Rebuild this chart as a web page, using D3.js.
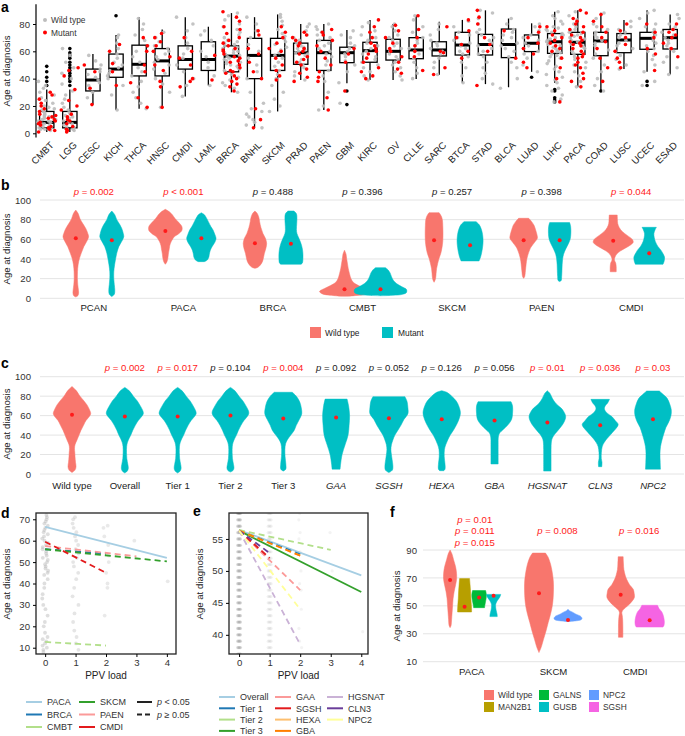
<!DOCTYPE html>
<html><head><meta charset="utf-8">
<script src="https://cdn.jsdelivr.net/npm/d3@7"></script>
<style>body{margin:0;background:#fff} text{font-family:"Liberation Sans",Arial,Helvetica,sans-serif}</style>
</head><body><svg id="c" width="685" height="736"></svg>
<script>
// ================= DATA =================
// Panel a
const aCats = ["CMBT","LGG","CESC","KICH","THCA","HNSC","CMDI","LAML","BRCA","BNHL","SKCM","PRAD","PAEN","GBM","KIRC","OV","CLLE","SARC","BTCA","STAD","BLCA","LUAD","LIHC","PACA","COAD","LUSC","UCEC","ESAD"];
const aQ1  = [4,4,31,41,42,42,47,46,45,40,46,50.5,46,51.7,52,53.6,54.6,56.6,57.3,57.3,55.4,59.8,58.5,57.8,56.8,59,61.5,61.7];
const aMed = [8,8,39,47,50.5,53,54,54,56.5,57,57,59,59,59,60.5,60,61,61,64.6,65,65,65.9,67,66.6,67.6,68.3,69.5,70];
const aQ3  = [16,16,47,58,64.5,62,64,67,64,69.5,69.5,66,68,63,66.6,68.8,70,67,73.9,72.4,76.3,72,73,73.9,73.9,73,73.9,76];
const aLo  = [1,1,21,17,18,19,27,35,30,4,16,39,17,36.6,39,39,39.8,42.7,37,36,33.7,45,37,33.7,31.7,47,45,43];
const aHi  = [32,32,58,72,85,76,85,78,88,85,87,80,80,75.6,83,80,86,81.7,83,90,84,80.5,89,90,88.3,83,90,87];
const aOut = [[35,38,41,45,49],[35,38,40,42,44,46,48,50,52,55,57,59,62],[],[86],[],[],[],[],[],[],[],[],[],[31,21],[],[],[],[],[],[],[],[41],[32,31,26,24.4,23],[],[31],[],[38,35],[]];
const aGray = [
 [2,3,3,4,4,5,5,6,6,7,7,8,8,9,9,10,10,11,12,12,13,14,15,16,17,18,19,20,22,24,26,28,30,33,35,38],
 [2,3,4,5,6,7,8,9,10,11,12,13,14,15,17,19,22,25,28,31,36,40,44,48,52,57,62],
 [26,30,33,35,37,39,41,43,45,47,50,53,57],
 [17,28,35,40,42,44,46,48,50,52,55,58,62,66,70,72],
 [18,22,26,30,34,38,42,45,48,52,56,60,64,68,72,76,80,84],
 [19,30,36,40,44,47,50,52,54,56,58,60,62,64,67,70,74],
 [27,35,40,45,50,55,58,62,66,70,75,80,85],
 [35,42,48,52,56,60,64,68,72,75],
 [30,33,35,37,39,41,43,45,46,47,48,49,50,51,52,53,54,55,56,57,58,59,60,61,62,63,64,65,66,67,68,70,72,74,76,78,80,83,86,88],
 [4,6,8,10,12,14,16,18,22,30,40,45,50,55,60,65,70,75,80,85],
 [16,20,25,30,35,40,43,46,49,52,55,57,59,61,63,65,67,69,71,73,76,79,82,85,87],
 [39,42,45,48,50,52,54,56,57,58,59,60,61,62,63,64,65,66,68,70,72,75,78,80],
 [17,20,30,38,42,46,50,53,56,58,60,62,64,66,68,70,72,74,76,78,80],
 [22,37,45,50,53,56,58,60,62,64,66,70,72,75],
 [39,42,45,48,50,52,54,56,58,60,62,64,66,68,70,72,75,78,81],
 [39,42,45,48,50,52,54,56,58,60,62,64,66,68,70,72,75,78,80],
 [40,44,48,52,55,58,60,62,64,66,68,70,74,78,83,86],
 [43,48,52,55,58,60,62,64,66,68,72,76,80],
 [37,42,48,52,56,58,60,62,64,66,68,70,72,74,78,82],
 [36,40,44,48,52,56,58,60,62,64,66,68,70,72,74,76,80,84,88,90],
 [33,40,48,52,56,60,62,64,66,68,70,72,74,76,80,84],
 [45,50,55,58,60,62,64,66,68,70,72,75,78,80],
 [23,25,28,31,33,35,37,39,41,43,45,47,49,51,53,55,56,57,58,59,60,61,62,63,64,65,66,67,68,69,70,71,72,73,74,75,76,77,78,80,82,84,86,89],
 [34,38,42,45,48,50,52,54,56,58,60,62,63,64,65,66,67,68,69,70,71,72,73,74,75,76,78,80,83,86,89],
 [31,35,40,45,50,55,58,61,64,66,68,70,72,74,76,78,80,84,88],
 [47,50,54,57,60,62,64,66,68,70,72,74,76,78,82],
 [35,38,45,50,54,57,60,62,64,66,68,70,72,74,76,78,80,84,88,90],
 [43,48,52,56,60,62,64,66,68,70,72,74,76,78,80,84,87]
];
const aRed = [
 [1,2,3,4,5,6,7,8,9,10,11,12,13,14,16,18,20,22,25,28,30],
 [1,2,3,5,7,9,10,12,14,17,20,24,32,42,46,48],
 [21,33,45,50],
 [35,45,51,60,65],
 [19,26,37,45,50,60,64,70],
 [19,34,38,46,50,56,60,64,67,70,73],
 [34,38,40,50,55,60,70],
 [39,57],
 [31,34,36,38,40,42,44,45,46,48,50,52,53,55,56,58,60,61,62,64,66,68,70,73,76,78,82,85,89],
 [4,10,18,40,45,52,58,62,72,75],
 [39,42,46,50,55,60,62,66,70,74,78],
 [38,41,44,47,50,52,54,56,58,60,62,64,66,68,70,72,74],
 [17,26,38,41,45,50,55,60,64,68,72,74,76],
 [31,52,58,62],
 [40,42,45,48,52,55,58,60,62,64,66,70,74,78,83],
 [44,47,52,56,60,62,66,70,75,79],
 [46,56,60,64,70,76,86],
 [43,48,59,60,78],
 [55,60,65,70,75,83],
 [35,60,65,70,80,85,90],
 [55,75],
 [48,52,58,62,66,70,74,78],
 [23,40,48,55,60,62,64,66,68,70,72,75,78],
 [34,38,40,44,48,50,52,55,56,58,60,62,64,65,66,67,68,70,72,74,76,78,80,82,84,88,90],
 [38,48,55,62,67,70,74,78,82,87],
 [48,52,55,60,65,70,75,80],
 [46,58,62,70,74,80],
 [56,62,66,70,72,74,76,80]
];
const aTicks = [0,20,40,60,80];

// Panel b
const bGroups = ["PCAN","PACA","BRCA","CMBT","SKCM","PAEN","CMDI"];
const bP = ["= 0.002","< 0.001","= 0.488","= 0.396","= 0.257","= 0.398","= 0.044"];
const bSig = [1,1,0,0,0,0,1];
const bWildMed = [61,68.5,56,9.2,59,59,58.6];
const bMutMed = [59,61,55.6,9.2,54,59,45.8];
const bWildShape = [
 [[89.8,0],[86,2.5],[81,4.2],[76,7],[71,10],[66,12],[62.7,12.8],[58,11],[52.5,8],[46,5.5],[40.7,3.7],[34,2.3],[27,1.7],[20,1.6],[13.6,2],[8,2.7],[5,2.8],[2.5,2],[1.4,0]],
 [[90.5,0],[88,4],[85,7],[81.4,9.5],[77,13.5],[73,16.5],[69,16.5],[65,12.5],[62.7,9],[58,6],[54,4.5],[50.8,4],[45,3],[40.7,2.5],[37,1.5],[34.6,0]],
 [[88.8,0],[86,2.5],[82,4],[78,4.7],[72,6],[66,8],[61,10.5],[56,11.7],[51,11],[45.8,9.5],[41,8.5],[37.3,7.5],[34,5.5],[31.5,3],[30.5,0]],
 [[49,0],[45,1.5],[40,2.2],[35,3],[30,3.8],[25,5],[20,6.5],[16,9],[13,14],[10,20],[7,25],[4.5,22],[2.7,10],[2,0]],
 [[87.1,5],[84,7],[80,8.3],[74,8.7],[66,8.9],[58,8.7],[52,8],[46,6.8],[40.7,5],[35,3.5],[30,2.5],[25,2],[20,1.5],[16.3,0]],
 [[81.4,5],[78,8],[74,10.5],[69.5,12],[64,13.5],[61,13.7],[57,11],[53,8],[50.8,6.7],[45,4.5],[40,3.2],[35,2.5],[28,1.8],[22,1],[20.3,0]],
 [[84.7,4],[80,4.2],[76,4.5],[72,6],[68,9],[64,14],[60,19],[57,20],[54,17],[51,12],[48,7],[45,3.5],[42,1.8],[39,1.2],[36,2.5],[32,3],[27,3]]
];
const bMutShape = [
 [[88.8,0],[85,3],[80,5],[75,8],[71,10],[66,11.5],[62.7,12],[58,10],[52.5,7],[46,5],[40,3.8],[34,2.8],[27,2],[20,2],[14,2.5],[8.5,3],[4,2.5],[1.7,0]],
 [[87,0],[85,3],[81,5.5],[78,7],[73,9.5],[69.5,11.7],[65,13.5],[61,14.7],[57,13.5],[53,11],[49,9],[45,8],[42,7.5],[39,6],[37.3,3]],
 [[88.8,3],[86,5.5],[82,6],[76,5.8],[70,5.5],[66,6],[61,8],[56,10],[50,11.5],[45,12],[40,12],[36,11.5],[34.6,10]],
 [[31.2,5],[29,7.5],[26,9.5],[22,11],[18,13],[15,16],[12,21],[9,26],[6,26],[4,22],[3,12],[2.6,0]],
 [[78,6],[75,9],[71,11],[65,12.5],[58,13],[52,12.5],[46,11.5],[42,10.5],[38,9]],
 [[77,10],[73,11],[66,11.2],[60,10.5],[55,8.5],[50,6],[45,4],[40,3],[34,2.5],[28,2.3],[22,2],[18,1.5],[17,0]],
 [[72.2,7.2],[70,6],[66,4.7],[62,5],[57.6,6.2],[53,8.5],[49,11.7],[45,14],[42,15.3],[38,15],[34.6,13.8]]
];
const bcTicks = [0,20,40,60,80,100];

// Panel c
const cCats = ["Wild type","Overall","Tier 1","Tier 2","Tier 3","GAA","SGSH","HEXA","GBA","HGSNAT","CLN3","NPC2"];
const cItalic = [0,0,0,0,0,1,1,1,1,1,1,1];
const cP = ["","0.002","0.017","0.104","0.004","0.092","0.052","0.126","0.056","0.01","0.036","0.03"];
const cSig = [0,1,1,0,1,0,0,0,0,1,1,1];
const cMed = [61,59,59,60,57,58,57.2,56.2,55.1,53,50,56.2];
const cShape = [
 [[90,0],[86,4],[80,8],[75,12],[71,15],[66,17.5],[62,18.7],[58,16.5],[55,14],[50,11.5],[45,9],[40,7],[35,5],[30,3],[26,2.5],[22,2.8],[18,3],[12,3.5],[7.5,4],[4,3],[1.5,0]],
 [[89,0],[86,4],[80,8.5],[75,12.5],[70,15.5],[65,18],[62,18.5],[58,16],[55,13.5],[50,10.5],[45,8],[40,6],[36,4],[32,2.5],[28,1.8],[22,1.7],[16,2],[10,3],[6,3.5],[3,2.5],[1,0]],
 [[89,0],[86,4],[80,8.5],[75,12.5],[70,15.5],[65,18],[62,18.5],[58,16],[55,13.5],[50,10.5],[45,8],[40,6],[36,4],[32,2.5],[28,1.8],[22,1.7],[16,2],[10,3],[6,3.5],[3,2.5],[1,0]],
 [[89,0],[86,4],[80,8.5],[75,12.5],[70,15.5],[65,18],[62,18.3],[58,16],[55,13.5],[50,10.5],[45,8],[40,6],[36,4],[32,2.5],[28,1.8],[22,1.7],[16,2],[10,3],[6,3.5],[3.5,2.5],[2,0]],
 [[84,9],[80,13],[74,16.5],[68,18],[62,18.5],[56,16],[50,13],[45,11],[40,7.5],[35,4],[31,2.3],[25,1.6],[18,1.8],[10,2.6],[5,2.5],[3,0]],
 [[77,11],[70,12.5],[60,13.5],[50,13],[40,12],[30,9],[20,6],[10,4.5],[5,4]],
 [[79.5,16],[75,18],[68,19],[62,19],[56,15],[50,12],[45,9],[40,6],[35,4],[30,2.5],[25,2],[20,2.5],[15,3.2],[8,4],[4,3.5],[1.4,0]],
 [[85.5,0],[84,5],[80,10],[75,14.5],[70,17],[63,18.7],[57,17.5],[50,14.5],[45,11.7],[40,8.5],[35,6],[30,4],[25,2.7],[18,2.5],[10,3.3],[5,3.3],[3.4,2]],
 [[74.3,16.5],[70,18],[62,18],[56,17],[50,13],[46,9],[42,5],[38,3.8],[30,3.6],[20,3.6],[10.3,3.6]],
 [[85.6,0],[83,2.5],[80,4],[76,6],[72,9],[68,13.5],[64,16.5],[59,18.3],[54,17],[49,14],[45,10.8],[41,7.5],[37,5],[33,4],[25,3.7],[15,3.7],[3,3.7]],
 [[76.7,9.3],[73,7.5],[70,5],[67,4.2],[63,6.5],[59,11.7],[55,15],[51,18],[47,16],[43,12.5],[40,10],[36,6.5],[32,3.8],[28,2],[22,1.2],[16,1.1],[12,1.8],[7.5,1.6]],
 [[85.3,6.3],[82,10],[78,14],[72,16.7],[66,18.3],[60,18],[54,16],[48,13],[42,11],[35,9],[28,7.5],[21,7],[12,7.2],[5,7.5]]
];

// Panel d
const dNames = ["PACA","BRCA","CMBT","SKCM","PAEN","CMDI"];
const dColors = ["#a6cee3","#1f78b4","#b2df8a","#33a02c","#fb9a99","#e31a1c"];
const dX1 = [4,2,2,4,3,2];
const dY0 = [66.5,56,12.7,56,57.5,59.5];
const dY1 = [52,54,11,50.3,52.7,45];
const dSig = [1,0,0,0,0,0];
const dLoad0 = [8,9,10,11,12,13,14,15,17,20,22,25,28,30,33,35,38,40,42,44,45,46,47,48,49,50,51,52,53,54,55,56,57,58,59,60,61,62,63,64,65,66,67,68,69,70,71,72];
const dLoad1 = [9,12,15,18,22,26,30,34,38,42,45,48,50,52,54,56,58,60,62,64,66,68,70,71];
const dLoad2 = [25,38,40,45,50,53,58,62,66,67];
const dLoad3 = [60];
const dLoad4 = [41];
const dXTicks = [0,1,2,3,4];
const dYTicks = [10,20,30,40,50,60,70];

// Panel e
const eNames = ["Overall","Tier 1","Tier 2","Tier 3","GAA","SGSH","HEXA","GBA","HGSNAT","CLN3","NPC2"];
const eColors = ["#a6cee3","#1f78b4","#b2df8a","#33a02c","#fb9a99","#e31a1c","#fdbf6f","#ff7f00","#cab2d6","#6a3d9a","#ffff99"];
const eX1 = [4,2,3,4,2,1,2,2,2,1,2];
const eY0 = [56.4,56.3,56.4,56.3,56.3,56.3,56.3,56.3,56.3,56.3,56.3];
const eY1 = [49.3,52.6,53.3,46.7,47.0,52.0,52.4,52.4,38.5,52.8,44.0];
const eSig = [1,0,0,1,0,0,0,0,0,0,0];
const eLoad0 = [37,38,39,40,41,42,43,44,45,46,47,48,49,50,51,52,53,54,55,56,57,58,59];
const eLoad1 = [37,38,39,40,41,42,43,44,45,46,47,48,49,50,51,52,53,54,55,56,57,58,59];
const eLoad2 = [38,39,41,44,47,48,50,53,55,56,58,59];
const eLoad3 = [50,56];
const eLoad4 = [40.5];
const eYTicks = [40,45,50,55];

// Panel f
const fCats = ["PACA","SKCM","CMDI"];
const fGenes = ["Wild type","MAN2B1","GALNS","GUSB","NPC2","SGSH"];
const fColors = ["#F8766D","#B79F00","#00BA38","#00BFC4","#619CFF","#F564E3"];
const fItemCat = [0,0,0,0,1,1,2,2];
const fItemGene = [0,1,2,3,0,4,0,5];
const fItemSlot = [0,1,2,3,0,1,0,1];
const fItemN = [4,4,4,4,2,2,2,2];
const fMed = [68.5,49.4,56,57.2,59,39.9,58,39.6];
const fShape = [
 [[90,0],[87,2],[83,3.5],[78,5.5],[73,6.5],[69,6.5],[65,5.5],[60,4],[55,3],[50,2.5],[45,2],[40,1.5],[36,1],[34.4,0]],
 [[69.5,5],[65,5.5],[60,6],[55,6.3],[50,6.8],[47,7],[45.6,7]],
 [[61,6.5],[58,7.3],[55,7],[52,6.2],[49,5.5],[48.7,5.5]],
 [[58.2,7.2],[56,6],[54,4],[52,2.5],[50,2],[47,2.5],[44,3.5],[42.3,3.7]],
 [[87.8,6.5],[85,9],[80,11.5],[75,13],[68,14.3],[62,14.5],[56,14.2],[50,13.3],[44,11.5],[38,9.2],[32,7],[26,4.5],[21,2.5],[16.5,0]],
 [[47.5,0],[46.5,1.5],[45.5,4.5],[44,8],[42.6,12.5],[41,14],[40,13],[39.2,7],[38.8,0]],
 [[85.2,2.5],[80,2.8],[76,3.2],[72,4.5],[69,6],[65,9],[62,12.5],[59,13.5],[56,13.7],[53,11],[50,7],[47.5,3],[45.5,1.2],[43,1.6],[40,2],[34,2.2],[27.5,2.2]],
 [[50.4,7.8],[48,9.5],[45.5,12.3],[42,14],[38.4,14.7],[36,14.3],[34.8,13.3]]
];
const fTicks = [10,30,50,70,90];
const fPacaP = ["= 0.01","= 0.011","= 0.015"];
const fOtherP = ["= 0.008","= 0.016"];

// ================= DRAWING =================
const svg = d3.select("#c");
const WILD = "#F8766D", MUT = "#00BFC4", RED = "#ff1a1a";
const FS = 9.6;      // general text size
const LFS = 8.4;     // legend text size
const wS = d3.scaleLinear().domain([0,20]).range([0,20]);
// deterministic hash used only for horizontal jitter offsets (layout, not data)
const jit = (i,s) => { const v = Math.sin(i*127.1 + s*311.7)*43758.5453; return v - Math.floor(v) - 0.5; };

function label(txt, x, y) {
  svg.append("text").attr("x",x).attr("y",y).attr("font-size",14).attr("font-weight","bold").text(txt);
}
function yTitle(x, y) {
  svg.append("text").attr("transform",`translate(${x},${y}) rotate(-90)`).attr("text-anchor","middle")
    .attr("font-size",FS).attr("fill","#222").text("Age at diagnosis");
}
function pText(g, x, y, s, color, anchor, fs) {
  const t = g.append("text").attr("x",x).attr("y",y).attr("text-anchor",anchor||"middle").attr("font-size",fs||FS).attr("fill",color);
  t.append("tspan").attr("font-style","italic").text("p");
  t.append("tspan").text(" " + s);
}
function violin(g, shape, cx, y, color) {
  const area = d3.area().curve(d3.curveCatmullRom.alpha(0.5))
    .y(d => y(d[0])).x0(d => cx - wS(d[1])).x1(d => cx + wS(d[1]));
  g.append("path").attr("d", area(shape)).attr("fill", color).attr("stroke", color).attr("stroke-width",0.5);
}
function gridAxis(g, y, ticks, x0, x1, labX) {
  ticks.forEach(t => {
    g.append("line").attr("x1",x0).attr("x2",x1).attr("y1",y(t)).attr("y2",y(t)).attr("stroke","#e4e4e4").attr("stroke-width",1);
  });
  const ax = g.append("g").attr("transform",`translate(${labX},0)`)
    .call(d3.axisLeft(y).tickValues(ticks).tickSize(0).tickPadding(0));
  ax.select(".domain").remove();
  ax.selectAll("text").attr("font-size",FS).attr("fill","#333").style("font-family",'"Liberation Sans",Arial,sans-serif');
}
function styleAxis(ax) {
  ax.select(".domain").remove();
  ax.selectAll("text").attr("font-size",FS).attr("fill","#333").style("font-family",'"Liberation Sans",Arial,sans-serif');
}

// ---------- Panel a ----------
(function(){
  const g = svg.append("g");
  const y = d3.scaleLinear().domain([0,80]).range([133.3,24]);
  const x = d3.scaleBand().domain(aCats).range([35.2,681.7]);
  const bw = x.bandwidth()*0.62;
  const ax = g.append("g").attr("transform","translate(36,0)").call(d3.axisLeft(y).tickValues(aTicks).tickSize(3).tickPadding(3));
  styleAxis(ax);
  g.append("line").attr("x1",36).attr("x2",36).attr("y1",y(-3)).attr("y2",y(94.5)).attr("stroke","#000").attr("stroke-width",1.2);
  aCats.forEach((c,i) => {
    const cx = x(c) + x.bandwidth()/2;
    g.append("line").attr("x1",cx).attr("x2",cx).attr("y1",y(aLo[i])).attr("y2",y(aHi[i])).attr("stroke","#000").attr("stroke-width",1.3);
    g.append("rect").attr("x",cx-bw/2).attr("width",bw).attr("y",y(aQ3[i])).attr("height",y(aQ1[i])-y(aQ3[i]))
      .attr("fill","#fff").attr("stroke","#000").attr("stroke-width",1.3);
    g.append("line").attr("x1",cx-bw/2).attr("x2",cx+bw/2).attr("y1",y(aMed[i])).attr("y2",y(aMed[i])).attr("stroke","#000").attr("stroke-width",3);
    aOut[i].forEach(v => g.append("circle").attr("cx",cx).attr("cy",y(v)).attr("r",1.8).attr("fill","#000"));
    aGray[i].forEach((v,k) => g.append("circle").attr("cx",cx + jit(k+i*50,0.13)*x.bandwidth()*0.78).attr("cy",y(v)).attr("r",1.8).attr("fill","#bdbdbd").attr("opacity",0.9));
    aRed[i].forEach((v,k) => g.append("circle").attr("cx",cx + jit(k+i*50,0.71)*x.bandwidth()*0.78).attr("cy",y(v)).attr("r",1.8).attr("fill","#ff0000"));
    g.append("text").attr("transform",`translate(${cx+3},${141}) rotate(-45)`).attr("text-anchor","end").attr("dy","0.7em")
      .attr("font-size",FS).attr("fill","#222").text(c);
  });
  g.append("circle").attr("cx",45).attr("cy",20).attr("r",2).attr("fill","#bdbdbd");
  g.append("text").attr("x",51).attr("y",23).attr("font-size",LFS).attr("fill","#333").text("Wild type");
  g.append("circle").attr("cx",45).attr("cy",32.5).attr("r",2).attr("fill","#ff0000");
  g.append("text").attr("x",51).attr("y",35.5).attr("font-size",LFS).attr("fill","#333").text("Mutant");
  label("a",1,12);
  yTitle(10,71);
})();

// ---------- Panel b ----------
(function(){
  const g = svg.append("g");
  const y = d3.scaleLinear().domain([0,100]).range([298.3,200]);
  const x = d3.scaleBand().domain(bGroups).range([49,676]);
  gridAxis(g, y, bcTicks, 40, 684, 31);
  bGroups.forEach((c,i) => {
    const cx = x(c) + x.bandwidth()/2;
    violin(g, bWildShape[i], cx-18, y, WILD);
  });
  bGroups.forEach((c,i) => {
    const cx = x(c) + x.bandwidth()/2;
    violin(g, bMutShape[i], cx+18, y, MUT);
    g.append("circle").attr("cx",cx-18).attr("cy",y(bWildMed[i])).attr("r",2).attr("fill",RED);
    g.append("circle").attr("cx",cx+18).attr("cy",y(bMutMed[i])).attr("r",2).attr("fill",RED);
    pText(g, cx, 195, bP[i], bSig[i] ? RED : "#222");
    g.append("text").attr("x",cx).attr("y",311).attr("text-anchor","middle").attr("font-size",FS).attr("fill","#222").text(c);
  });
  g.append("rect").attr("x",310).attr("y",327).attr("width",11).attr("height",11).attr("fill",WILD);
  g.append("text").attr("x",325).attr("y",335.5).attr("font-size",LFS).attr("fill","#222").text("Wild type");
  g.append("rect").attr("x",382).attr("y",327).attr("width",11).attr("height",11).attr("fill",MUT);
  g.append("text").attr("x",398).attr("y",335.5).attr("font-size",LFS).attr("fill","#222").text("Mutant");
  label("b",1,190);
  yTitle(10,249);
})();

// ---------- Panel c ----------
(function(){
  const g = svg.append("g");
  const y = d3.scaleLinear().domain([0,100]).range([474,376.7]);
  const x = d3.scaleBand().domain(cCats).range([45.6,679.4]);
  gridAxis(g, y, bcTicks, 40, 684, 31);
  cCats.forEach((c,i) => {
    const cx = x(c) + x.bandwidth()/2;
    violin(g, cShape[i], cx, y, i===0 ? WILD : MUT);
    g.append("circle").attr("cx",cx).attr("cy",y(cMed[i])).attr("r",2).attr("fill",RED);
    if (cP[i]) pText(g, cx, 371, "= " + cP[i], cSig[i] ? RED : "#222");
    g.append("text").attr("x",cx).attr("y",489).attr("text-anchor","middle").attr("font-size",FS).attr("fill","#222")
      .attr("font-style", cItalic[i] ? "italic" : "normal").text(c);
  });
  label("c",1,368);
  yTitle(10,424);
})();

// ---------- Panel d ----------
(function(){
  const g = svg.append("g");
  const x = d3.scaleLinear().domain([-0.3,4.3]).range([36,176]);
  const y = d3.scaleLinear().domain([7.06,72.94]).range([654,513]);
  g.append("clipPath").attr("id","clipD").append("rect").attr("x",36).attr("y",513).attr("width",140).attr("height",141);
  const p = g.append("g").attr("clip-path","url(#clipD)");
  const ops = [0.45,0.35,0.3,0.3,0.3];
  [dLoad0,dLoad1,dLoad2,dLoad3,dLoad4].forEach((arr,L) => {
    arr.forEach((v,k) => p.append("circle").attr("cx",x(L + jit(k+L*70,0.27)*0.2)).attr("cy",y(v)).attr("r",1.9)
      .attr("fill","#b5b5b5").attr("opacity",ops[L]));
  });
  dNames.forEach((n,i) => {
    p.append("line").attr("x1",x(0)).attr("y1",y(dY0[i])).attr("x2",x(dX1[i])).attr("y2",y(dY1[i]))
      .attr("stroke",dColors[i]).attr("stroke-width",1.8).attr("stroke-dasharray", dSig[i] ? null : "6,4");
  });
  g.append("rect").attr("x",36).attr("y",513).attr("width",140).attr("height",141).attr("fill","none").attr("stroke","#222").attr("stroke-width",1.3);
  const ay = g.append("g").attr("transform","translate(36,0)").call(d3.axisLeft(y).tickValues(dYTicks).tickSize(3).tickPadding(3).tickFormat(d3.format("d")));
  styleAxis(ay);
  const axx = g.append("g").attr("transform","translate(0,654)").call(d3.axisBottom(x).tickValues(dXTicks).tickSize(3).tickPadding(2).tickFormat(d3.format("d")));
  styleAxis(axx);
  g.append("text").attr("x",106).attr("y",679).attr("text-anchor","middle").attr("font-size",FS+0.4).attr("fill","#222").text("PPV load");
  const colX = [26,79];
  dNames.forEach((n,i) => {
    const cx = colX[Math.floor(i/3)], cy = 702 + (i%3)*12.5;
    g.append("line").attr("x1",cx).attr("x2",cx+16).attr("y1",cy).attr("y2",cy).attr("stroke",dColors[i]).attr("stroke-width",2);
    g.append("text").attr("x",cx+21).attr("y",cy+3.3).attr("font-size",9).attr("fill","#333").text(n);
  });
  g.append("line").attr("x1",137).attr("x2",152).attr("y1",702).attr("y2",702).attr("stroke","#222").attr("stroke-width",2);
  g.append("line").attr("x1",137).attr("x2",152).attr("y1",714.5).attr("y2",714.5).attr("stroke","#222").attr("stroke-width",2).attr("stroke-dasharray","5,3");
  pText(g,157,705.3,"< 0.05","#333","start",9);
  pText(g,157,717.8,"\u2265 0.05","#333","start",9);
  label("d",1,518);
  yTitle(10,584);
})();

// ---------- Panel e ----------
(function(){
  const g = svg.append("g");
  const x = d3.scaleLinear().domain([-0.33,4.22]).range([229,368]);
  const y = d3.scaleLinear().domain([37.0,59.06]).range([654,513]);
  g.append("clipPath").attr("id","clipE").append("rect").attr("x",229).attr("y",513).attr("width",139).attr("height",141);
  const p = g.append("g").attr("clip-path","url(#clipE)");
  const reps = [4,3,1,1,1], ops = [0.35,0.15,0.12,0.12,0.12];
  [eLoad0,eLoad1,eLoad2,eLoad3,eLoad4].forEach((arr,L) => {
    arr.forEach((v,k) => {
      for (let r=0;r<reps[L];r++) {
        p.append("circle").attr("cx",x(L + (reps[L]>1 ? (r/(reps[L]-1)-0.5)*0.09 : jit(k,0.3)*0.1))).attr("cy",y(v)).attr("r",1.6)
          .attr("fill","#9a9a9a").attr("opacity",ops[L]);
      }
    });
  });
  eNames.forEach((n,i) => {
    p.append("line").attr("x1",x(0)).attr("y1",y(eY0[i])).attr("x2",x(eX1[i])).attr("y2",y(eY1[i]))
      .attr("stroke",eColors[i]).attr("stroke-width",1.8).attr("stroke-dasharray", eSig[i] ? null : "6,4");
  });
  g.append("rect").attr("x",229).attr("y",513).attr("width",139).attr("height",141).attr("fill","none").attr("stroke","#222").attr("stroke-width",1.3);
  const ay = g.append("g").attr("transform","translate(229,0)").call(d3.axisLeft(y).tickValues(eYTicks).tickSize(3).tickPadding(3).tickFormat(d3.format("d")));
  styleAxis(ay);
  const axx = g.append("g").attr("transform","translate(0,654)").call(d3.axisBottom(x).tickValues(dXTicks).tickSize(3).tickPadding(2).tickFormat(d3.format("d")));
  styleAxis(axx);
  g.append("text").attr("x",298.5).attr("y",679).attr("text-anchor","middle").attr("font-size",FS+0.4).attr("fill","#222").text("PPV load");
  const colX = [219,275,327];
  eNames.forEach((n,i) => {
    const cx = colX[Math.floor(i/4)], cy = 697 + (i%4)*11.3;
    g.append("line").attr("x1",cx).attr("x2",cx+16).attr("y1",cy).attr("y2",cy).attr("stroke",eColors[i]).attr("stroke-width",2);
    g.append("text").attr("x",cx+21).attr("y",cy+3.2).attr("font-size",9).attr("fill","#333").text(n);
  });
  label("e",193,516);
  yTitle(203,584);
})();

// ---------- Panel f ----------
(function(){
  const g = svg.append("g");
  const y = d3.scaleLinear().domain([10,90]).range([661.7,550]);
  const x = d3.scaleBand().domain(fCats).range([431,676]);
  gridAxis(g, y, fTicks, 423, 685, 417);
  fMed.forEach((m,i) => {
    const c = fCats[fItemCat[i]];
    const slot = 58 / fItemN[i];
    const cx = x(c) + x.bandwidth()/2 + (fItemSlot[i] - (fItemN[i]-1)/2) * slot;
    violin(g, fShape[i], cx, y, fColors[fItemGene[i]]);
    g.append("circle").attr("cx",cx).attr("cy",y(m)).attr("r",2).attr("fill",RED);
  });
  fCats.forEach(c => {
    g.append("text").attr("x",x(c)+x.bandwidth()/2).attr("y",675).attr("text-anchor","middle").attr("font-size",FS).attr("fill","#222").text(c);
  });
  fPacaP.forEach((s,k) => pText(g, x("PACA")+x.bandwidth()/2+3, 523 + k*11.3, s, RED));
  pText(g, x("SKCM")+x.bandwidth()/2+4, 534, fOtherP[0], RED);
  pText(g, x("CMDI")+x.bandwidth()/2+4, 534, fOtherP[1], RED);
  const colX = [484,539,589];
  fGenes.forEach((n,i) => {
    const cx = colX[Math.floor(i/2)], cy = 690 + (i%2)*12;
    g.append("rect").attr("x",cx).attr("y",cy).attr("width",10).attr("height",10).attr("fill",fColors[i]);
    g.append("text").attr("x",cx+14).attr("y",cy+8).attr("font-size",LFS).attr("fill","#333").text(n);
  });
  label("f",390,517);
  yTitle(400,606);
})();
</script></body></html>
